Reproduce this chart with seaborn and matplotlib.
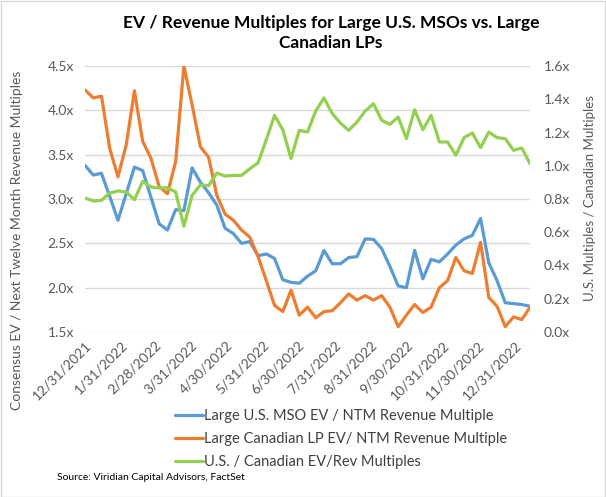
import matplotlib
matplotlib.use('Agg')
import matplotlib.pyplot as plt
from matplotlib.patches import Rectangle
import seaborn as sns
import pandas as pd

sns.set_theme(style='white')
plt.rcParams['font.family'] = ['Lato', 'DejaVu Sans']

# weekly observations, first one on 12/31/2021
first_week = '2021-12-31'
us_mso = [3.38, 3.27, 3.29, 3.03, 2.76, 3.06, 3.36, 3.32, 3.02, 2.72,
          2.65, 2.88, 2.87, 3.35, 3.19, 3.07, 2.93, 2.67, 2.61, 2.50,
          2.52, 2.36, 2.38, 2.33, 2.09, 2.06, 2.05, 2.13, 2.19, 2.42,
          2.27, 2.27, 2.34, 2.35, 2.55, 2.545, 2.44, 2.24, 2.02, 2.00,
          2.42, 2.10, 2.32, 2.29, 2.38, 2.48, 2.55, 2.59, 2.78, 2.28,
          2.08, 1.83, 1.82, 1.81, 1.79]
can_lp = [4.23, 4.14, 4.16, 3.57, 3.25, 3.61, 4.22, 3.65, 3.46, 3.14,
          3.06, 3.42, 4.50, 4.06, 3.59, 3.47, 3.04, 2.83, 2.76, 2.65,
          2.57, 2.35, 2.08, 1.80, 1.73, 1.97, 1.69, 1.78, 1.66, 1.73,
          1.74, 1.83, 1.93, 1.86, 1.91, 1.86, 1.91, 1.78, 1.56, 1.69,
          1.81, 1.72, 1.78, 2.00, 2.08, 2.34, 2.19, 2.16, 2.51, 1.89,
          1.79, 1.56, 1.67, 1.64, 1.78]
us_over_can = [0.806, 0.788, 0.792, 0.836, 0.848, 0.842, 0.796, 0.906, 0.872, 0.866,
               0.868, 0.842, 0.636, 0.822, 0.885, 0.880, 0.956, 0.938, 0.942, 0.942,
               0.982, 1.017, 1.157, 1.303, 1.217, 1.043, 1.213, 1.203, 1.329, 1.408,
               1.314, 1.257, 1.213, 1.263, 1.329, 1.373, 1.274, 1.249, 1.293, 1.163,
               1.337, 1.217, 1.303, 1.143, 1.143, 1.063, 1.169, 1.197, 1.109, 1.203,
               1.169, 1.163, 1.093, 1.107, 1.013]
month_ticks = ['12/31/2021', '1/31/2022', '2/28/2022', '3/31/2022', '4/30/2022',
               '5/31/2022', '6/30/2022', '7/31/2022', '8/31/2022', '9/30/2022',
               '10/31/2022', '11/30/2022', '12/31/2022']
left_ticks = [1.5, 2.0, 2.5, 3.0, 3.5, 4.0, 4.5]
right_ticks = [0.0, 0.2, 0.4, 0.6, 0.8, 1.0, 1.2, 1.4, 1.6]

names = ['Large U.S. MSO EV / NTM Revenue Multiple',
         'Large Canadian LP EV/ NTM Revenue Multiple',
         'U.S. / Canadian EV/Rev Multiples']
colors = ['#5B9BD5', '#ED7D31', '#92D050']

weeks = pd.date_range(first_week, periods=len(us_mso), freq='7D')
df = pd.DataFrame({'week': weeks, 'us': us_mso, 'can': can_lp, 'ratio': us_over_can})

W, H = 606, 497
fig = plt.figure(figsize=(W / 100, H / 100), dpi=100)
ax = fig.add_axes([85 / W, 1 - 332 / H, 445 / W, 266 / H])
ax2 = ax.twinx()

sns.lineplot(data=df, x='week', y='us', ax=ax, color=colors[0], lw=2.3, label=names[0])
sns.lineplot(data=df, x='week', y='can', ax=ax, color=colors[1], lw=2.3, label=names[1])
sns.lineplot(data=df, x='week', y='ratio', ax=ax2, color=colors[2], lw=2.3, label=names[2])

h1, l1 = ax.get_legend_handles_labels()
h2, l2 = ax2.get_legend_handles_labels()
ax.get_legend().remove()
ax2.get_legend().remove()

tick_dates = pd.to_datetime(month_ticks, format='%m/%d/%Y')
ax.set_xlim(weeks[0], weeks[-1])
ax.set_xticks(tick_dates)
ax.set_xticklabels(month_ticks, rotation=45, ha='right', rotation_mode='anchor')

ax.set_ylim(1.5, 4.5)
ax.set_yticks(left_ticks)
ax.set_yticklabels([f'{v:.1f}x' for v in left_ticks])
ax2.set_ylim(0, 1.6)
ax2.set_yticks(right_ticks)
ax2.set_yticklabels([f'{v:.1f}x' for v in right_ticks])

ax.yaxis.grid(True, color='#d9d9d9', lw=1)
ax.set_axisbelow(True)
for a in (ax, ax2):
    for s in a.spines.values():
        s.set_visible(False)
    a.set_xlabel('')
    a.set_ylabel('')
    a.tick_params(length=0, labelsize=10, labelcolor='#595959')
ax.tick_params(axis='x', pad=5)
ax.tick_params(axis='y', pad=8)
ax2.tick_params(axis='y', pad=10)

fig.text(331 / W, 1 - 33 / H,
         'EV / Revenue Multiples for Large U.S. MSOs vs. Large\nCanadian LPs',
         ha='center', va='center', fontsize=12.5, fontweight='bold',
         color='black', linespacing=1.3)
fig.text(17 / W, 1 - 240 / H, 'Consensus EV / Next Twelve Month Revenue Multiples',
         rotation=90, ha='center', va='center', fontsize=10, color='#595959')
fig.text(590 / W, 1 - 198 / H, 'U.S. Multiples / Canadian Multiples',
         rotation=90, ha='center', va='center', fontsize=9.5, color='#595959')

fig.legend(h1 + h2, l1 + l2, loc='upper left', bbox_to_anchor=(168 / W, 1 - 402 / H),
           frameon=False, fontsize=10.5, handlelength=1.9, handletextpad=0.1,
           labelspacing=0.62, borderpad=0, labelcolor='#404040')

fig.text(57 / W, 1 - 477 / H, 'Source: Viridian Capital Advisors, FactSet',
         ha='left', va='center', fontsize=7.5, color='black')

fig.patches.append(Rectangle((0.5 / W, 0.5 / H), 1 - 1.5 / W, 1 - 1.5 / H,
                             transform=fig.transFigure, fill=False,
                             ec='#d9d9d9', lw=1))

fig.savefig('out.png', dpi=100)
